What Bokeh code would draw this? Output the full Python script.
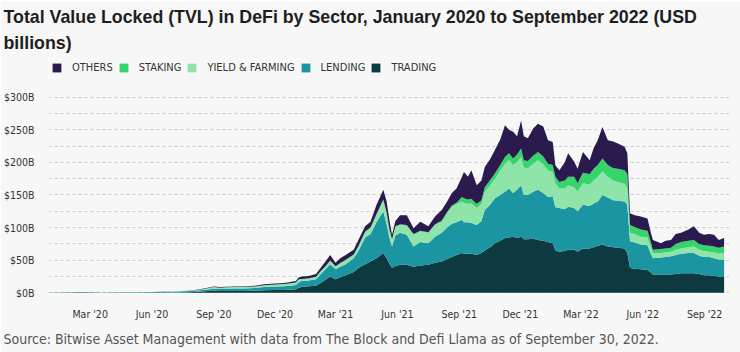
from datetime import datetime
import pandas as pd
from bokeh.plotting import figure
from bokeh.models import (ColumnDataSource, Range1d, SingleIntervalTicker, MonthsTicker,
                          DatetimeTickFormatter, PrintfTickFormatter, Legend, LegendItem, Title)
from bokeh.embed import file_html
from bokeh.resources import INLINE

# ---- data (USD billions) ----
dates = ["2020-01-01", "2020-02-01", "2020-02-15", "2020-03-10", "2020-03-16", "2020-04-15",
         "2020-05-15", "2020-06-15", "2020-07-01", "2020-07-15", "2020-08-01", "2020-08-15",
         "2020-09-01", "2020-09-10", "2020-09-20", "2020-10-01", "2020-10-15", "2020-11-01",
         "2020-11-15", "2020-12-01", "2020-12-15", "2021-01-01", "2021-01-05", "2021-01-10",
         "2021-01-20", "2021-01-31", "2021-02-08", "2021-02-14", "2021-02-21", "2021-03-01",
         "2021-03-08", "2021-03-16", "2021-03-28", "2021-04-04", "2021-04-14", "2021-04-22",
         "2021-05-01", "2021-05-11", "2021-05-16", "2021-05-20", "2021-05-24", "2021-05-29",
         "2021-06-05", "2021-06-15", "2021-06-25", "2021-07-05", "2021-07-17", "2021-07-27",
         "2021-08-06", "2021-08-14", "2021-08-21", "2021-08-28", "2021-09-05", "2021-09-08",
         "2021-09-14", "2021-09-19", "2021-09-27", "2021-10-04", "2021-10-09", "2021-10-17",
         "2021-10-24", "2021-11-01", "2021-11-08", "2021-11-14", "2021-11-20", "2021-11-26",
         "2021-12-02", "2021-12-06", "2021-12-12", "2021-12-20", "2021-12-27", "2022-01-04",
         "2022-01-11", "2022-01-18", "2022-01-22", "2022-01-28", "2022-02-05", "2022-02-10",
         "2022-02-19", "2022-02-24", "2022-03-04", "2022-03-14", "2022-03-20", "2022-03-26",
         "2022-04-02", "2022-04-10", "2022-04-18", "2022-04-25", "2022-05-05", "2022-05-09",
         "2022-05-13", "2022-05-20", "2022-05-29", "2022-06-08", "2022-06-13", "2022-06-16",
         "2022-06-28", "2022-07-05", "2022-07-13", "2022-07-20", "2022-07-28", "2022-08-08",
         "2022-08-16", "2022-08-24", "2022-08-31", "2022-09-08", "2022-09-15", "2022-09-22",
         "2022-09-30"]

trading = [0.1, 0.15, 0.2, 0.15, 0.1, 0.15, 0.2, 0.3, 0.45, 0.7, 1.2, 2.0,
           3.5, 2.8, 3.0, 3.0, 3.0, 3.2, 3.8, 4.3, 4.5, 5.5, 7.5, 9.5,
           10, 11, 16, 20, 25, 21, 24, 27, 32, 38, 44, 48,
           53, 61, 53, 45, 38, 41, 43, 43, 40, 42, 43, 46,
           48, 52, 55, 58, 61, 60, 60, 60, 58, 61, 65, 70,
           76, 80, 84, 85, 86, 84, 86, 82, 82, 83, 81, 80,
           78, 76, 65, 63, 64, 66, 66, 63, 68, 68, 70, 72,
           74, 71, 70, 69, 68, 61, 38, 37, 36, 35, 31, 28,
           28, 28, 28, 29, 30, 30, 30, 29, 27, 27, 26, 25, 25]

lending = [0.5, 0.7, 0.8, 0.75, 0.4, 0.6, 0.75, 1.0, 1.25, 1.6, 1.8, 2.2,
           2.8, 3.0, 3.2, 3.5, 3.8, 4.3, 5.0, 5.5, 5.8, 6.5, 8.5, 8.5,
           9, 10, 14, 16, 19, 15, 16, 17, 21, 26, 41, 42,
           55, 64, 52, 40, 33, 47, 49, 46, 31, 36, 33, 40,
           44, 48, 51, 50, 51, 48, 48, 47, 46, 49, 62, 65,
           69, 70, 71, 75, 67, 74, 79, 68, 68, 72, 77, 73,
           69, 72, 66, 67, 64, 66, 64, 62, 67, 65, 67, 68,
           76, 75, 72, 72, 72, 74, 41, 40, 38, 38, 29, 25,
           26, 27, 28, 29, 30, 31, 31, 28, 28, 28, 27, 26, 26]

yield_farming = [0, 0, 0, 0, 0, 0, 0, 0.1, 0.2, 0.4, 0.6, 1.4,
                 2.5, 2.1, 2.3, 2.4, 2.4, 2.3, 2.7, 3.0, 3.2, 3.8, 4.5, 3.0,
                 3, 3.5, 4, 4, 5, 4, 5, 6, 5, 7, 8, 9,
                 12, 17, 17, 12, 10, 13, 12, 14, 18, 16, 16, 18,
                 17, 22, 26, 28, 28, 30, 28, 30, 26, 26, 28, 30,
                 30, 37, 43, 43, 43, 42, 43, 42, 41, 43, 45, 44,
                 41, 37, 37, 30, 32, 33, 32, 30, 33, 33, 35, 38,
                 36, 32, 30, 29, 27, 25, 13, 13, 12, 12, 10, 8,
                 7, 7, 7, 8, 8, 9, 10, 9, 9, 8, 9, 9, 10]

staking = [0, 0, 0, 0, 0, 0, 0, 0, 0, 0, 0, 0,
           0, 0, 0, 0, 0, 0, 0, 0, 0, 0, 0.2, 0.2,
           0.2, 0.3, 0.5, 0.6, 0.6, 0.6, 0.6, 0.7, 0.8, 0.8, 1, 1,
           1, 1, 1, 1, 1, 1, 1, 1, 1, 1, 1, 1,
           2, 2, 2, 2, 7, 7, 7, 7, 6, 6, 7, 8,
           8, 9, 10, 11, 10, 12, 13, 11, 11, 12, 13, 12,
           10, 11, 10, 10, 12, 13, 16, 13, 16, 16, 18, 18,
           20, 18, 19, 20, 21, 22, 12, 11, 11, 10, 8, 5,
           6, 6, 6, 9, 10, 10, 10, 9, 9, 9, 9, 9, 10]

others = [0.1, 0.15, 0.2, 0.15, 0.1, 0.1, 0.1, 0.1, 0.2, 0.2, 0.4, 0.6,
          1.0, 0.9, 0.9, 1.0, 1.1, 1.2, 1.5, 1.7, 1.7, 2.2, 2.8, 3.8,
          3.8, 4.2, 5.5, 7.4, 8.4, 5.4, 7.4, 7.3, 7.2, 9.2, 8, 9,
          14, 15, 17, 14, 7, 8, 14, 15, 9, 14, 9, 12,
          16, 16, 19, 22, 31, 40, 35, 44, 29, 30, 31, 32,
          36, 39, 49, 36, 41, 28, 43, 37, 35, 42, 43, 46,
          36, 35, 17, 18, 28, 36, 23, 22, 32, 21, 32, 38,
          48, 38, 41, 39, 36, 32, 18, 18, 20, 19, 14, 15,
          9, 12, 12, 15, 14, 17, 21, 17, 16, 18, 18, 12, 13]

sectors = ["trading", "lending", "yield_farming", "staking", "others"]
labels = ["TRADING", "LENDING", "YIELD & FARMING", "STAKING", "OTHERS"]
colors = ["#0c3a40", "#1c95a3", "#8fe4aa", "#35d56c", "#2b1a4d"]

source = ColumnDataSource(dict(date=pd.to_datetime(dates), trading=trading, lending=lending,
                               yield_farming=yield_farming, staking=staking, others=others))

COND = "DejaVu Sans Condensed"
BG = "#f7f7f7"

p = figure(width=740, height=352, x_axis_type="datetime", output_backend="svg",
           toolbar_location=None,
           x_range=Range1d(datetime(2019, 12, 30), datetime(2022, 10, 8)),
           y_range=Range1d(-1, 363.7),
           min_border_left=45, min_border_right=11, min_border_top=55, min_border_bottom=58,
           background_fill_color=BG, border_fill_color=BG, outline_line_color=None)

rs = p.varea_stack(stackers=sectors, x="date", color=colors, source=source)

# axes
p.yaxis.ticker = SingleIntervalTicker(interval=50)
p.yaxis.formatter = PrintfTickFormatter(format="$%dB")
p.yaxis.bounds = (-0.5, 300.5)
p.xaxis.ticker = MonthsTicker(months=[2, 5, 8, 11])
fmt = "%b '%y"
p.xaxis.formatter = DatetimeTickFormatter(months=fmt, days=fmt, years=fmt, hours=fmt,
                                          minutes=fmt, seconds=fmt, milliseconds=fmt,
                                          microseconds=fmt, minsec=fmt, hourmin=fmt)
for ax in (p.xaxis[0], p.yaxis[0]):
    ax.axis_line_color = None
    ax.major_tick_line_color = None
    ax.minor_tick_line_color = None
    ax.major_label_text_font = COND
    ax.major_label_text_font_size = "10.5px"
    ax.major_label_text_color = "#333333"
p.yaxis.major_label_standoff = 8
p.xaxis.major_label_standoff = 8

p.xgrid.grid_line_color = None
p.ygrid.ticker = SingleIntervalTicker(interval=25)
p.ygrid.bounds = (-0.5, 300.5)
p.ygrid.grid_line_color = "#cccccc"
p.ygrid.grid_line_dash = "3 3"
p.ygrid.grid_line_width = 1

# legend (order as in the reference), drawn in the empty band above the data
items = [LegendItem(label=labels[i], renderers=[rs[i]]) for i in [4, 3, 2, 1, 0]]
legend = Legend(items=items, orientation="horizontal", location=(3, 219),
                glyph_width=11, glyph_height=11, label_standoff=10, spacing=5,
                padding=0, margin=0, border_line_color=None, background_fill_alpha=0,
                label_text_font=COND, label_text_font_size="11px",
                label_text_color="#333333", label_height=12)
p.add_layout(legend, "center")

p.add_layout(Title(text="billions)", text_font="Liberation Sans", text_font_size="17.8px",
                   text_font_style="bold", text_color="#1e1e1e", offset=-45, standoff=5), "above")
p.add_layout(Title(text="Total Value Locked (TVL) in DeFi by Sector, January 2020 to September 2022 (USD",
                   text_font="Liberation Sans", text_font_size="17.8px", text_font_style="bold",
                   text_color="#1e1e1e", offset=-45, standoff=4), "above")

p.add_layout(Title(text="Source: Bitwise Asset Management with data from The Block and Defi Llama as of September 30, 2022.",
                   text_font=COND, text_font_size="14px", text_font_style="normal",
                   text_color="#555555", offset=-45, standoff=12), "below")

open("out.html", "w").write(file_html(p, INLINE))
